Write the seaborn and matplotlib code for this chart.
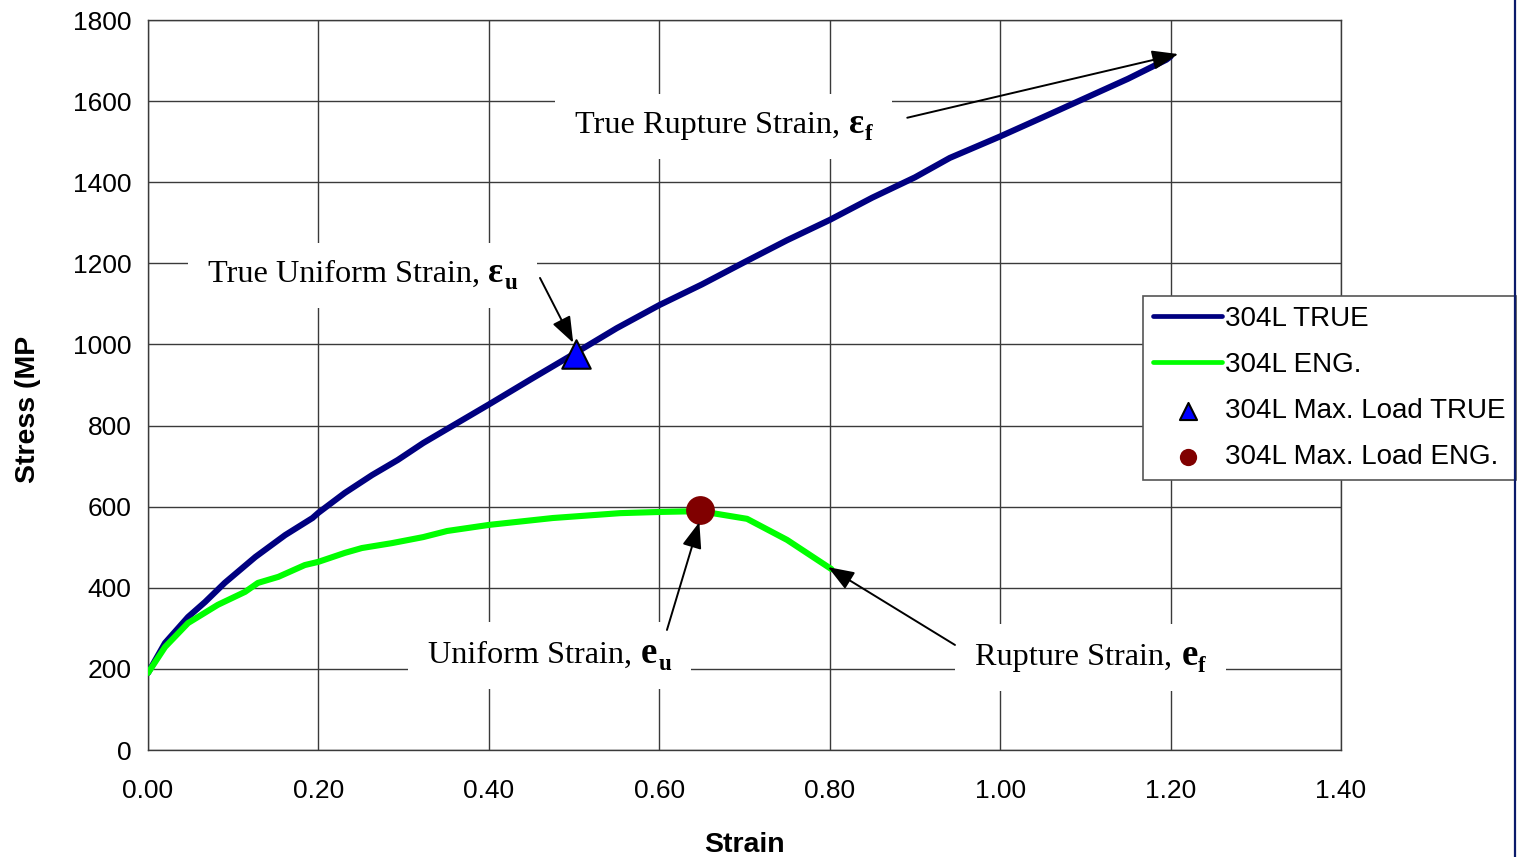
import matplotlib
matplotlib.use("Agg")
import matplotlib.pyplot as plt
from matplotlib.lines import Line2D
from matplotlib.patches import Rectangle
from matplotlib.transforms import Bbox
import seaborn as sns

# ---------------- data ----------------
true_strain = [0.0, 0.02, 0.047, 0.067, 0.090, 0.126, 0.161, 0.193, 0.2, 0.231, 0.263, 0.293,
               0.323, 0.40, 0.45, 0.50, 0.55, 0.60, 0.65, 0.70, 0.75, 0.80, 0.85, 0.90,
               0.941, 0.999, 1.05, 1.09, 1.15, 1.195, 1.20]
true_stress = [190, 264, 328, 365, 412, 476, 530, 572, 585, 634, 678, 715,
               757, 852, 915, 977, 1040, 1097, 1148, 1203, 1257, 1307, 1362, 1412,
               1460, 1512, 1560, 1598, 1655, 1702, 1710]

eng_strain = [0.0, 0.02, 0.047, 0.082, 0.114, 0.129, 0.153, 0.184, 0.2, 0.231, 0.251, 0.286,
              0.323, 0.351, 0.40, 0.475, 0.554, 0.601, 0.648, 0.703, 0.75, 0.802]
eng_stress = [190, 254, 313, 358, 390, 412, 427, 456, 464, 486, 498, 510,
              525, 540, 555, 572, 584, 587, 589, 570, 518, 446]

max_true_strain = [0.502]
max_true_stress = [977]
max_eng_strain = [0.648]
max_eng_stress = [592]

series_labels = ["304L TRUE", "304L ENG.", "304L Max. Load TRUE", "304L Max. Load ENG."]
x_ticks = [0.0, 0.2, 0.4, 0.6, 0.8, 1.0, 1.2, 1.4]
y_ticks = [0, 200, 400, 600, 800, 1000, 1200, 1400, 1600, 1800]

# annotation texts: (body, symbol, subscript)
ann_texts = [("True Rupture Strain, ", "ε", "f"),
             ("True Uniform Strain, ", "ε", "u"),
             ("Uniform Strain, ", "e", "u"),
             ("Rupture Strain, ", "e", "f")]
# left edge / baseline of each text (data coords)
ann_pos = [(0.501, 1521), (0.070, 1154), (0.329, 215), (0.971, 210)]
# arrows: (tail, head)
arrows = [((0.891, 1559), (1.209, 1716)),
          ((0.460, 1164), (0.499, 1004)),
          ((0.609, 296), (0.647, 562)),
          ((0.947, 259), (0.798, 451))]

# ---------------- style ----------------
sns.set_style("white")
plt.rcParams["font.family"] = ["Liberation Sans", "DejaVu Sans"]
for k in ["text.color", "axes.labelcolor", "xtick.color", "ytick.color"]:
    plt.rcParams[k] = "black"

fig = plt.figure(figsize=(15.17, 8.57), dpi=100)
ax = fig.add_axes([148 / 1517, 1 - 750 / 857, (1341 - 148) / 1517, (750 - 20) / 857])

grid_c = "#3a3a3a"
ax.set_xlim(0, 1.4)
ax.set_ylim(0, 1800)
ax.set_xticks(x_ticks)
ax.set_yticks(y_ticks)
ax.set_xticklabels([f"{v:.2f}" for v in x_ticks])
ax.set_yticklabels([str(v) for v in y_ticks])
ax.grid(True, color=grid_c, lw=1.0, zorder=0)
ax.set_axisbelow(True)
for s in ax.spines.values():
    s.set_color(grid_c)
    s.set_linewidth(1.0)
ax.tick_params(axis="both", direction="out", length=6, width=1, color=grid_c,
               labelsize=19, labelcolor="black")
ax.tick_params(axis="x", pad=15)
ax.tick_params(axis="y", pad=6)

# ---------------- curves ----------------
sns.lineplot(x=true_strain, y=true_stress, ax=ax, color="#000080", lw=4.4,
             sort=False, estimator=None, label=series_labels[0], zorder=3,
             solid_capstyle="round")
sns.lineplot(x=eng_strain, y=eng_stress, ax=ax, color="#00FF00", lw=4.4,
             sort=False, estimator=None, label=series_labels[1], zorder=3,
             solid_capstyle="round")
sns.scatterplot(x=max_true_strain, y=max_true_stress, ax=ax, marker="^", s=420,
                color="#0000FF", edgecolor="black", linewidth=1.5,
                label=series_labels[2], zorder=5)
sns.scatterplot(x=max_eng_strain, y=max_eng_stress, ax=ax, marker="o", s=430,
                color="#800000", edgecolor="#800000", linewidth=0,
                label=series_labels[3], zorder=5)

ax.set_xlabel("Strain", fontsize=20.5, fontweight="bold")
ax.set_ylabel("Stress (MP", fontsize=20.5, fontweight="bold")
ax.xaxis.set_label_coords(0.5004, -0.112)
ax.yaxis.set_label_coords(-0.090, 0.466)

# ---------------- annotations ----------------
serif = "Liberation Serif"
groups = []
for (body, sym, sub), (x0, yb) in zip(ann_texts, ann_pos):
    t = ax.text(x0, yb, body, family=serif, fontsize=23.2, ha="left", va="baseline", zorder=4)
    s = ax.annotate(sym, xy=(1, yb), xycoords=(t, "data"), xytext=(0.5, 0),
                    textcoords="offset points", family=serif, fontweight="bold",
                    fontsize=26.5 if sym == "e" else 25.5, ha="left", va="baseline", zorder=4)
    u = ax.annotate(sub, xy=(1, yb), xycoords=(s, "data"), xytext=(0.5, -5),
                    textcoords="offset points", family=serif, fontweight="bold",
                    fontsize=16.5, ha="left", va="baseline", zorder=4)
    groups.append((t, s, u))

arrow = dict(arrowstyle="-|>,head_length=0.8,head_width=0.3", color="black", lw=1.4,
             shrinkA=0, shrinkB=0, mutation_scale=20)
for tail, head in arrows:
    ax.annotate("", xy=head, xytext=tail, arrowprops=arrow, zorder=6)

# ---------------- legend ----------------
leg = ax.legend(loc="upper left", bbox_to_anchor=(1143 / 1517, 1 - 296 / 857),
                bbox_transform=fig.transFigure, borderaxespad=0, fontsize=20,
                frameon=True, fancybox=False, edgecolor="#555555", framealpha=1,
                handlelength=2.5, handletextpad=0.1, labelspacing=0.72,
                borderpad=0.36, markerscale=0.6)
leg.get_frame().set_linewidth(1.2)
for h in leg.legend_handles:
    if isinstance(h, Line2D):
        h.set_linewidth(3.4)

# white boxes behind annotation texts (hide the grid like the original text boxes)
fig.canvas.draw()
r = fig.canvas.get_renderer()
inv = fig.transFigure.inverted()
for g in groups:
    bb = Bbox.union([a.get_window_extent(r) for a in g])
    x0, y0 = inv.transform((bb.x0 - 20, bb.y0 - 14))
    x1, y1 = inv.transform((bb.x1 + 20, bb.y1 + 14))
    ax.add_artist(Rectangle((x0, y0), x1 - x0, y1 - y0, transform=fig.transFigure,
                            facecolor="white", edgecolor="none", zorder=2))

# right-side slide border
fig.add_artist(Line2D([1515 / 1517, 1515 / 1517], [0, 1], transform=fig.transFigure,
                      color="#0a1a6a", lw=1.6))

fig.savefig("out.png", dpi=100, facecolor="white")
